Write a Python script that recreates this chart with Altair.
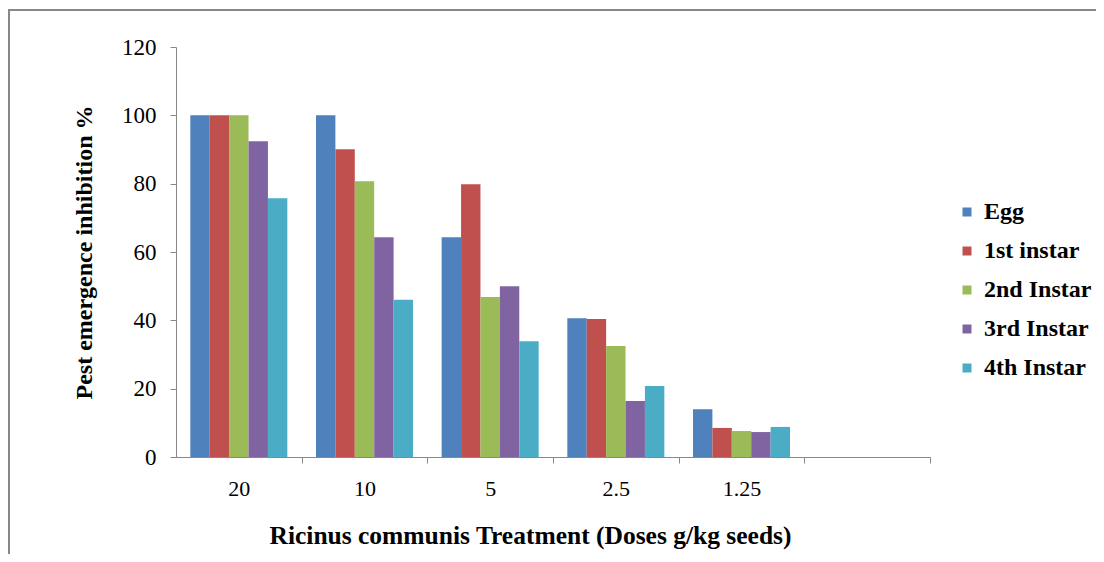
import altair as alt
import pandas as pd

doses = ["20", "10", "5", "2.5", "1.25"]
domain_x = ["20", "10", "5", "2.5", "1.25", " "]
series = ["Egg", "1st instar", "2nd Instar", "3rd Instar", "4th Instar"]
colors = ["#4F81BD", "#C0504D", "#9BBB59", "#8064A2", "#4BACC6"]

egg = [100, 100, 64.3, 40.6, 14.0]
first = [100, 90.1, 79.8, 40.4, 8.5]
second = [100, 80.7, 46.8, 32.5, 7.6]
third = [92.4, 64.3, 50.0, 16.4, 7.3]
fourth = [75.7, 46.0, 33.9, 20.8, 8.8]

rows = []
for s, vals in zip(series, [egg, first, second, third, fourth]):
    for d, v in zip(doses, vals):
        rows.append({"dose": d, "series": s, "value": v})
df = pd.DataFrame(rows)

SERIF = "Liberation Serif"
STEP = 754 / 6

bars = alt.Chart(df).mark_bar(stroke=None).encode(
    x=alt.X("dose:N",
            scale=alt.Scale(domain=domain_x, paddingInner=0.228, paddingOuter=0.114),
            axis=alt.Axis(title="Ricinus communis Treatment  (Doses g/kg seeds)",
                          labelAngle=0, tickOffset=STEP / 2, labelOffset=-STEP / 2,
                          labelFont=SERIF, labelFontSize=22, labelColor="#000", labelPadding=15,
                          tickSize=6, tickColor="#888", domainColor="#888",
                          titleFont=SERIF, titleFontSize=25.5, titleFontWeight="bold",
                          titleColor="#000", titlePadding=24, titleX=354)),
    xOffset=alt.XOffset("series:N", sort=series),
    y=alt.Y("value:Q", scale=alt.Scale(domain=[0, 120], nice=False),
            axis=alt.Axis(title="Pest emergence inhibition %", values=[0, 20, 40, 60, 80, 100, 120],
                          grid=False, labelFont=SERIF, labelFontSize=23, labelColor="#000",
                          labelPadding=14, tickSize=6, tickColor="#888", domainColor="#888",
                          titleFont=SERIF, titleFontSize=24, titleFontWeight="bold",
                          titleColor="#000", titlePadding=25)),
    color=alt.Color("series:N", sort=series,
                    scale=alt.Scale(domain=series, range=colors),
                    legend=alt.Legend(title=None, orient="none", legendX=779, legendY=153,
                                      symbolType="square", symbolSize=81, symbolStrokeWidth=0,
                                      labelFont=SERIF, labelFontSize=24, labelFontWeight="bold",
                                      labelColor="#000", rowPadding=15, labelOffset=5)),
)

border = alt.Chart(pd.DataFrame({"a": [0]})).mark_rect(
    fill=None, stroke="#888", strokeWidth=2, clip=False
).encode(x=alt.value(-167), x2=alt.value(1100), y=alt.value(-37), y2=alt.value(700))

chart = alt.layer(border, bars).properties(
    width=754, height=410,
    background="white",
    autosize=alt.AutoSizeParams(type="none"),
    padding={"left": 168, "top": 39, "right": 166, "bottom": 97},
).configure_view(stroke=None)

chart.save("out.html", embed_options={"renderer": "svg", "actions": False})
